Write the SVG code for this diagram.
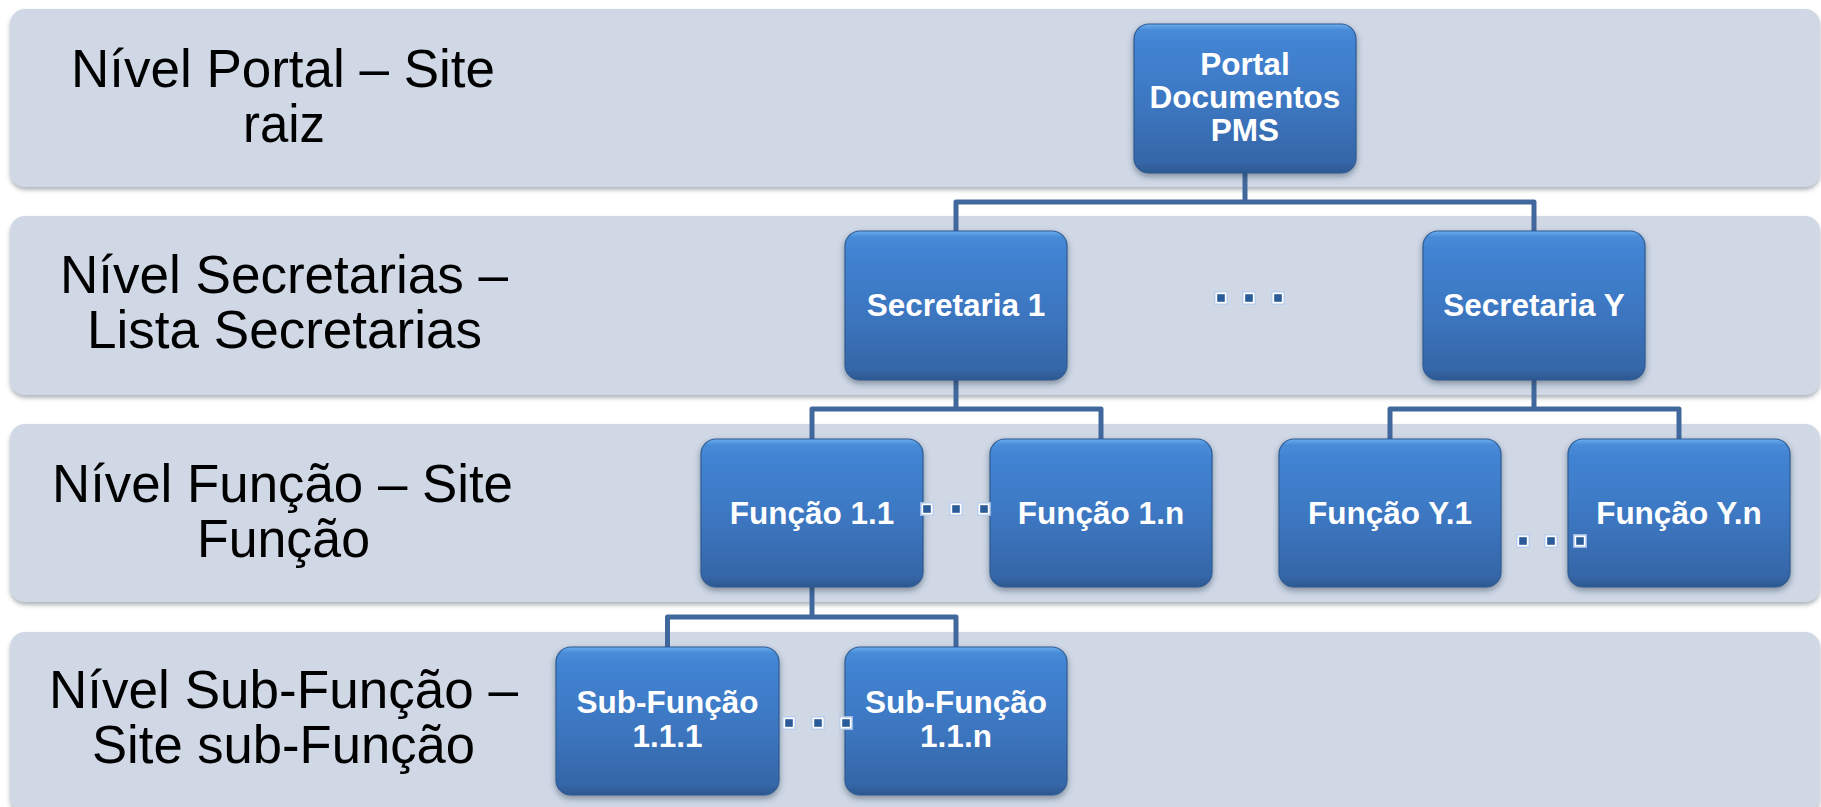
<svg xmlns="http://www.w3.org/2000/svg" xmlns:xlink="http://www.w3.org/1999/xlink" width="1821" height="807" viewBox="0 0 1821 807">
<defs>
<linearGradient id="nodeGrad" x1="0" y1="0" x2="0" y2="1">
<stop offset="0" stop-color="#6aaef0"/>
<stop offset="0.04" stop-color="#4a8bd8"/>
<stop offset="0.12" stop-color="#4284d3"/>
<stop offset="0.55" stop-color="#3c76c0"/>
<stop offset="0.93" stop-color="#3566a8"/>
<stop offset="1" stop-color="#2c5890"/>
</linearGradient>
<filter id="nodeShadow" x="-10%" y="-10%" width="120%" height="130%">
<feDropShadow dx="0" dy="3" stdDeviation="3" flood-color="#1a2a40" flood-opacity="0.45"/>
</filter>
<filter id="bandShadow" x="-2%" y="-10%" width="104%" height="130%">
<feDropShadow dx="0" dy="3" stdDeviation="2" flood-color="#505a68" flood-opacity="0.45"/>
</filter>
<g id="dot">
<rect x="-7" y="-7" width="14" height="14" fill="#b4ccef" opacity="0.8"/>
<rect x="-5.5" y="-5.5" width="11" height="11" fill="#ffffff"/>
<rect x="-3.8" y="-3.8" width="7.6" height="7.6" fill="#2b5c9a"/>
</g>
</defs>
<style>
.band{fill:#d0d8e6;filter:url(#bandShadow);}
.lbl{font-family:"Liberation Sans",Arial,sans-serif;font-size:53px;fill:#000;text-anchor:middle;}
.box{fill:url(#nodeGrad);stroke:#2f5b92;stroke-width:1.2;filter:url(#nodeShadow);}
.ntx{font-family:"Liberation Sans",Arial,sans-serif;font-weight:bold;font-size:31.5px;fill:#fff;text-anchor:middle;}
.conn{fill:none;stroke:#41689c;stroke-width:5;stroke-linejoin:round;}
</style>
<rect width="1821" height="807" fill="#ffffff"/>
<g id="bands">
<g id="band-portal">
<rect class="band" x="10" y="9" width="1810" height="178" rx="15"/>
<text class="lbl" x="283" y="87" textLength="424" lengthAdjust="spacingAndGlyphs">Nível Portal – Site</text>
<text class="lbl" x="284" y="142" textLength="82" lengthAdjust="spacingAndGlyphs">raiz</text>
</g>
<g id="band-secretarias">
<rect class="band" x="10" y="216" width="1810" height="179" rx="15"/>
<text class="lbl" x="284" y="293" textLength="448" lengthAdjust="spacingAndGlyphs">Nível Secretarias –</text>
<text class="lbl" x="284.5" y="348" textLength="395" lengthAdjust="spacingAndGlyphs">Lista Secretarias</text>
</g>
<g id="band-funcao">
<rect class="band" x="10" y="424" width="1810" height="178" rx="15"/>
<text class="lbl" x="282.5" y="502" textLength="461" lengthAdjust="spacingAndGlyphs">Nível Função – Site</text>
<text class="lbl" x="283.5" y="557" textLength="173" lengthAdjust="spacingAndGlyphs">Função</text>
</g>
<g id="band-subfuncao">
<rect class="band" x="10" y="632" width="1810" height="180" rx="15"/>
<text class="lbl" x="283.5" y="708" textLength="469" lengthAdjust="spacingAndGlyphs">Nível Sub-Função –</text>
<text class="lbl" x="283.5" y="763" textLength="383" lengthAdjust="spacingAndGlyphs">Site sub-Função</text>
</g>
</g>
<g id="connectors">
<path class="conn" d="M1245 173 V202"/>
<path class="conn" d="M956 231 V202 H1534 V231"/>
<path class="conn" d="M956 380 V409"/>
<path class="conn" d="M812 439 V409 H1101 V439"/>
<path class="conn" d="M1534 380 V409"/>
<path class="conn" d="M1390 439 V409 H1679 V439"/>
<path class="conn" d="M812 587 V617"/>
<path class="conn" d="M667.5 647 V617 H956 V647"/>
</g>
<g id="node-portal">
<rect class="box" x="1134" y="24" width="222" height="149" rx="15"/>
<text class="ntx" x="1245" y="75">Portal</text>
<text class="ntx" x="1245" y="108">Documentos</text>
<text class="ntx" x="1245" y="141">PMS</text>
</g>
<g id="node-secretaria-1">
<rect class="box" x="845" y="231" width="222" height="149" rx="15"/>
<text class="ntx" x="956" y="316">Secretaria 1</text>
</g>
<g id="node-secretaria-y">
<rect class="box" x="1423" y="231" width="222" height="149" rx="15"/>
<text class="ntx" x="1534" y="316">Secretaria Y</text>
</g>
<g id="node-funcao-1-1">
<rect class="box" x="701" y="439" width="222" height="148" rx="15"/>
<text class="ntx" x="812" y="524">Função 1.1</text>
</g>
<g id="node-funcao-1-n">
<rect class="box" x="990" y="439" width="222" height="148" rx="15"/>
<text class="ntx" x="1101" y="524">Função 1.n</text>
</g>
<g id="node-funcao-y-1">
<rect class="box" x="1279" y="439" width="222" height="148" rx="15"/>
<text class="ntx" x="1390" y="524">Função Y.1</text>
</g>
<g id="node-funcao-y-n">
<rect class="box" x="1568" y="439" width="222" height="148" rx="15"/>
<text class="ntx" x="1679" y="524">Função Y.n</text>
</g>
<g id="node-subfuncao-1-1-1">
<rect class="box" x="556" y="647" width="223" height="148" rx="15"/>
<text class="ntx" x="667.5" y="713">Sub-Função</text>
<text class="ntx" x="667.5" y="747">1.1.1</text>
</g>
<g id="node-subfuncao-1-1-n">
<rect class="box" x="845" y="647" width="222" height="148" rx="15"/>
<text class="ntx" x="956" y="713">Sub-Função</text>
<text class="ntx" x="956" y="747">1.1.n</text>
</g>
<g id="ellipses">
<use xlink:href="#dot" x="1221" y="298"/>
<use xlink:href="#dot" x="1249" y="298"/>
<use xlink:href="#dot" x="1278" y="298"/>
<use xlink:href="#dot" x="927" y="509"/>
<use xlink:href="#dot" x="956" y="509"/>
<use xlink:href="#dot" x="984" y="509"/>
<use xlink:href="#dot" x="1523" y="541"/>
<use xlink:href="#dot" x="1551" y="541"/>
<use xlink:href="#dot" x="1580" y="541"/>
<use xlink:href="#dot" x="789" y="723"/>
<use xlink:href="#dot" x="818" y="723"/>
<use xlink:href="#dot" x="846" y="723"/>
</g>
</svg>
